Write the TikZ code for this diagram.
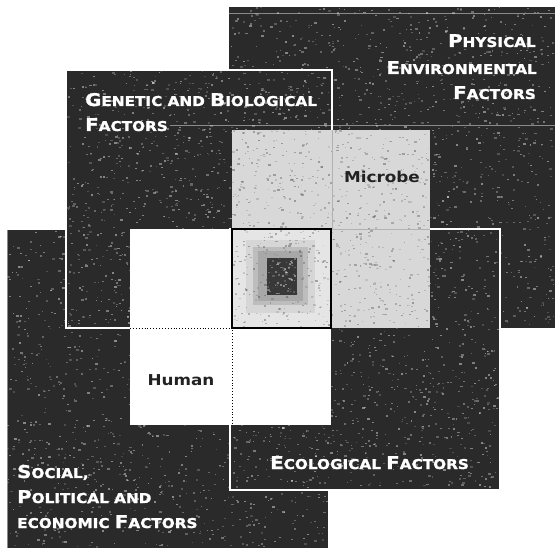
\documentclass[tikz,border=0pt]{standalone}
\usepackage{graphicx}
\usepackage{fontspec}
\newfontfamily\labfont{DejaVu Sans}
\newfontfamily\heavyfont{DejaVu Sans Bold}[FakeBold=1.4]
\definecolor{darkbg}{HTML}{2A2A2A}
\definecolor{microbe}{HTML}{D8D8D8}
\definecolor{labink}{HTML}{222222}
\newcommand\BigL[1]{{\fontsize{17.5}{17.5}\selectfont #1}}
\newcommand\SmL[1]{{\fontsize{13.5}{13.5}\selectfont #1}}
\newcommand\specks[6]{%
  \foreach \i in {1,...,#5}{%
    \pgfmathsetmacro\px{#1+rnd*(#3-#1-2)}%
    \pgfmathsetmacro\py{#2+rnd*(#4-#2-2)}%
    \pgfmathsetmacro\ps{0.7+rnd*1.3}%
    \pgfmathsetmacro\po{0.15+rnd*0.3}%
    \fill[#6, opacity=\po] (\px,\py) rectangle ++(\ps+0.6,\ps);
  }}
\tikzset{
  factor/.style={fill=darkbg},
  factorrim/.style={fill=darkbg, draw=white, line width=1.3pt},
  lightspeck/.style={white},
  darkspeck/.style={black!70},
  factorlabel/.style={font=\heavyfont, text=white, inner sep=0pt},
  hostlabel/.style={font=\labfont\bfseries\fontsize{15}{15}\selectfont, text=labink, inner sep=0pt},
  faintline/.style={white, opacity=0.45, line width=0.6pt},
  dotline/.style={black, line width=0.9pt, dotted},
}
\begin{document}
\begin{tikzpicture}[x=1pt,y=-1pt]
\pgfmathsetseed{42}
\useasboundingbox (0,0) rectangle (555,548);
% Physical environmental factors
\fill[factor] (229,7) rectangle (555,328);
\specks{229}{7}{555}{328}{1500}{lightspeck}
\draw[faintline] (229,13) -- (555,13);
% Social, political and economic factors
\fill[factor] (7,230) rectangle (328,548);
\specks{7}{230}{328}{548}{1400}{lightspeck}
\draw[faintline] (7,230) -- (7,548);
% Genetic and biological factors
\filldraw[factorrim] (66,70) rectangle (332,328);
\specks{67}{71}{331}{327}{1200}{lightspeck}
\draw[faintline] (170,125) -- (555,125);
% Ecological factors
\filldraw[factorrim] (230,229) rectangle (500,490);
\specks{231}{230}{499}{489}{1100}{lightspeck}
% Microbe
\fill[microbe] (232,130) rectangle (430,328);
\specks{232}{130}{430}{328}{700}{darkspeck}
\draw[gray!60, line width=0.5pt] (332,130) -- (332,229) (332,229) -- (430,229);
% Human
\fill[white] (130,229) rectangle (331,425);
\draw[dotline] (130,328) -- (232,328) -- (232,425);
% Center
\fill[gray!20] (232,229) rectangle (331,328);
\fill[gray!32] (246,240) rectangle (315,313);
\fill[gray!52] (253,247) rectangle (308,305);
\fill[gray!68] (258,251) rectangle (303,301);
\fill[black!78] (267,258) rectangle (297,295);
\specks{267}{258}{297}{295}{60}{lightspeck}
\specks{232}{229}{331}{328}{200}{darkspeck}
\draw[black, line width=2pt] (232,229) rectangle (331,328);
% Labels
\node[factorlabel, anchor=base west] (gen1) at (85,106) {\scalebox{1.13}[1]{\BigL{G}\SmL{ENETIC AND }\BigL{B}\SmL{IOLOGICAL}}};
\node[factorlabel, anchor=base west] (gen2) at (85,131) {\scalebox{1.13}[1]{\BigL{F}\SmL{ACTORS}}};
\node[factorlabel, anchor=base east] (phy1) at (536,47) {\scalebox{1.13}[1]{\BigL{P}\SmL{HYSICAL}}};
\node[factorlabel, anchor=base east] (phy2) at (537,74) {\scalebox{1.13}[1]{\BigL{E}\SmL{NVIRONMENTAL}}};
\node[factorlabel, anchor=base east] (phy3) at (536,99) {\scalebox{1.13}[1]{\BigL{F}\SmL{ACTORS}}};
\node[factorlabel, anchor=base west] (soc1) at (17,478) {\scalebox{1.13}[1]{\BigL{S}\SmL{OCIAL,}}};
\node[factorlabel, anchor=base west] (soc2) at (17,503) {\scalebox{1.13}[1]{\BigL{P}\SmL{OLITICAL AND}}};
\node[factorlabel, anchor=base west] (soc3) at (17,528) {\scalebox{1.13}[1]{\SmL{ECONOMIC }\BigL{F}\SmL{ACTORS}}};
\node[factorlabel, anchor=base west] (eco) at (270,469) {\scalebox{1.13}[1]{\BigL{E}\SmL{COLOGICAL }\BigL{F}\SmL{ACTORS}}};
\node[hostlabel, anchor=base] (mic) at (382,183) {\scalebox{1.12}[1]{Microbe}};
\node[hostlabel, anchor=base] (hum) at (181,386) {\scalebox{1.12}[1]{Human}};
\end{tikzpicture}
\end{document}
